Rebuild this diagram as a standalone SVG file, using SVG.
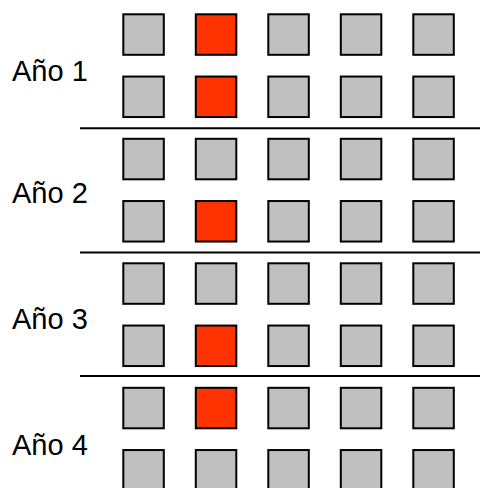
<svg xmlns="http://www.w3.org/2000/svg" width="480" height="488" viewBox="0 0 480 488">
<style>
.g{fill:#C0C0C0;stroke:#000;stroke-width:2}
.r{fill:#FF3300;stroke:#000;stroke-width:2}
.sep{stroke:#000;stroke-width:2}
.lbl{font-family:"Liberation Sans",Arial,sans-serif;font-size:29px;fill:#000}
</style>
<rect width="480" height="488" fill="#fff"/>
<g id="separators">
<line class="sep" x1="80" y1="128.3" x2="480" y2="128.3"/>
<line class="sep" x1="80" y1="252.5" x2="480" y2="252.5"/>
<line class="sep" x1="80" y1="376" x2="480" y2="376"/>
</g>
<g id="labels">
<text class="lbl" x="12" y="81">Año 1</text>
<text class="lbl" x="12" y="203.3">Año 2</text>
<text class="lbl" x="12" y="329">Año 3</text>
<text class="lbl" x="12" y="454.7">Año 4</text>
</g>
<g id="year1">
<rect class="g" x="123.3" y="14.3" width="40.5" height="40.5"/>
<rect class="r" x="195.8" y="14.3" width="40.5" height="40.5"/>
<rect class="g" x="268.3" y="14.3" width="40.5" height="40.5"/>
<rect class="g" x="340.8" y="14.3" width="40.5" height="40.5"/>
<rect class="g" x="413.3" y="14.3" width="40.5" height="40.5"/>
<rect class="g" x="123.3" y="76.55" width="40.5" height="40.5"/>
<rect class="r" x="195.8" y="76.55" width="40.5" height="40.5"/>
<rect class="g" x="268.3" y="76.55" width="40.5" height="40.5"/>
<rect class="g" x="340.8" y="76.55" width="40.5" height="40.5"/>
<rect class="g" x="413.3" y="76.55" width="40.5" height="40.5"/>
</g>
<g id="year2">
<rect class="g" x="123.3" y="138.8" width="40.5" height="40.5"/>
<rect class="g" x="195.8" y="138.8" width="40.5" height="40.5"/>
<rect class="g" x="268.3" y="138.8" width="40.5" height="40.5"/>
<rect class="g" x="340.8" y="138.8" width="40.5" height="40.5"/>
<rect class="g" x="413.3" y="138.8" width="40.5" height="40.5"/>
<rect class="g" x="123.3" y="201.05" width="40.5" height="40.5"/>
<rect class="r" x="195.8" y="201.05" width="40.5" height="40.5"/>
<rect class="g" x="268.3" y="201.05" width="40.5" height="40.5"/>
<rect class="g" x="340.8" y="201.05" width="40.5" height="40.5"/>
<rect class="g" x="413.3" y="201.05" width="40.5" height="40.5"/>
</g>
<g id="year3">
<rect class="g" x="123.3" y="263.3" width="40.5" height="40.5"/>
<rect class="g" x="195.8" y="263.3" width="40.5" height="40.5"/>
<rect class="g" x="268.3" y="263.3" width="40.5" height="40.5"/>
<rect class="g" x="340.8" y="263.3" width="40.5" height="40.5"/>
<rect class="g" x="413.3" y="263.3" width="40.5" height="40.5"/>
<rect class="g" x="123.3" y="325.55" width="40.5" height="40.5"/>
<rect class="r" x="195.8" y="325.55" width="40.5" height="40.5"/>
<rect class="g" x="268.3" y="325.55" width="40.5" height="40.5"/>
<rect class="g" x="340.8" y="325.55" width="40.5" height="40.5"/>
<rect class="g" x="413.3" y="325.55" width="40.5" height="40.5"/>
</g>
<g id="year4">
<rect class="g" x="123.3" y="387.8" width="40.5" height="40.5"/>
<rect class="r" x="195.8" y="387.8" width="40.5" height="40.5"/>
<rect class="g" x="268.3" y="387.8" width="40.5" height="40.5"/>
<rect class="g" x="340.8" y="387.8" width="40.5" height="40.5"/>
<rect class="g" x="413.3" y="387.8" width="40.5" height="40.5"/>
<rect class="g" x="123.3" y="450.05" width="40.5" height="40.5"/>
<rect class="g" x="195.8" y="450.05" width="40.5" height="40.5"/>
<rect class="g" x="268.3" y="450.05" width="40.5" height="40.5"/>
<rect class="g" x="340.8" y="450.05" width="40.5" height="40.5"/>
<rect class="g" x="413.3" y="450.05" width="40.5" height="40.5"/>
</g>
</svg>
